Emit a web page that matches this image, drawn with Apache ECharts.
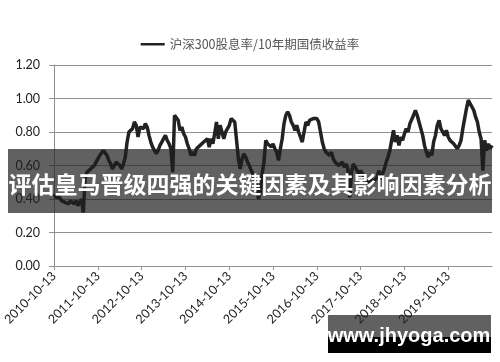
<!DOCTYPE html>
<html>
<head>
<meta charset="utf-8">
<script src="https://cdn.jsdelivr.net/npm/echarts@6/dist/echarts.min.js"></script>
<style>
html,body{margin:0;padding:0;background:#fff;}
#c{width:500px;height:362px;}
</style>
</head>
<body>
<div id="c"></div>
<script>
const seriesName = '沪深300股息率/10年期国债收益率';
const yearLabels = ['2010-10-13','2011-10-13','2012-10-13','2013-10-13','2014-10-13','2015-10-13','2016-10-13','2017-10-13','2018-10-13','2019-10-13'];
const yTicks = [0, 0.2, 0.4, 0.6, 0.8, 1.0, 1.2];
// ~semi-monthly readings, 24 per year
const y2010 = [0.43,0.41,0.40,0.41,0.39,0.40,0.38,0.39,0.37,0.39,0.38,0.37,0.39,0.36,0.38,0.40,0.32,0.52,0.56,0.55,0.58,0.57,0.60,0.62];
const y2011 = [0.63,0.66,0.65,0.69,0.68,0.66,0.63,0.61,0.58,0.60,0.62,0.63,0.60,0.58,0.61,0.65,0.74,0.80,0.79,0.82,0.86,0.84,0.77,0.83];
const y2012 = [0.84,0.82,0.85,0.83,0.78,0.74,0.71,0.69,0.67,0.69,0.72,0.74,0.76,0.78,0.75,0.73,0.70,0.56,0.90,0.91,0.87,0.81,0.83,0.79];
const y2013 = [0.77,0.73,0.70,0.66,0.68,0.66,0.70,0.69,0.72,0.71,0.74,0.73,0.76,0.71,0.76,0.73,0.79,0.86,0.76,0.84,0.80,0.76,0.80,0.80];
const y2014 = [0.84,0.88,0.89,0.86,0.75,0.64,0.58,0.64,0.67,0.65,0.62,0.60,0.57,0.55,0.52,0.47,0.40,0.44,0.55,0.62,0.75,0.73,0.74,0.71];
const y2015 = [0.73,0.70,0.68,0.63,0.70,0.76,0.85,0.90,0.92,0.90,0.86,0.84,0.81,0.84,0.80,0.77,0.74,0.80,0.86,0.84,0.87,0.86,0.88,0.89];
const y2016 = [0.88,0.86,0.80,0.74,0.70,0.68,0.69,0.66,0.68,0.64,0.62,0.63,0.60,0.61,0.62,0.59,0.61,0.58,0.41,0.56,0.61,0.59,0.58,0.55];
const y2017 = [0.57,0.55,0.53,0.52,0.50,0.51,0.52,0.50,0.51,0.53,0.57,0.52,0.55,0.58,0.62,0.65,0.69,0.68,0.81,0.74,0.78,0.72,0.77,0.75];
const y2018 = [0.79,0.82,0.80,0.85,0.84,0.90,0.93,0.90,0.86,0.82,0.78,0.72,0.68,0.65,0.68,0.66,0.74,0.78,0.84,0.87,0.82,0.80,0.78,0.81];
const y2019 = [0.77,0.75,0.76,0.73,0.74,0.70,0.72,0.75,0.82,0.88,0.94,0.99,0.97,0.96,0.93,0.89,0.86,0.80,0.76,0.57,0.75,0.69,0.73,0.70,0.72];
const bannerText = '评估皇马晋级四强的关键因素及其影响因素分析';
const watermarkText = 'www.jhyoga.com';

const values = [].concat(y2010,y2011,y2012,y2013,y2014,y2015,y2016,y2017,y2018,y2019);
const PER_YEAR = 24;
const categories = values.map((v,i)=> i % PER_YEAR === 0 && yearLabels[i/PER_YEAR] ? yearLabels[i/PER_YEAR] : 'p' + i);
const showIdx = (i)=> i % PER_YEAR === 0 && i/PER_YEAR < yearLabels.length;

const chart = echarts.init(document.getElementById('c'), null, {renderer:'canvas'});
const font = 'Lato, "Noto Sans CJK SC", sans-serif';
chart.setOption({
  animation:false,
  backgroundColor:'#fff',
  legend:{
    top:33, left:'center',
    data:[{name:seriesName, icon:'rect'}],
    itemWidth:24, itemHeight:2.5, itemGap:6,
    textStyle:{fontSize:12.5, color:'#555', fontFamily:'"Noto Sans CJK SC", sans-serif'}
  },
  grid:{left:47.7, right:8, top:65, bottom:96, containLabel:false},
  xAxis:{
    type:'category', data:categories, boundaryGap:false,
    axisLine:{show:true, lineStyle:{color:'#909090', width:1}},
    axisTick:{show:true, interval:(i)=>showIdx(i), length:4, lineStyle:{color:'#909090'}},
    axisLabel:{interval:(i)=>showIdx(i), rotate:45, fontSize:12.5, color:'#222', fontFamily:font, margin:8,
      formatter:(v)=> v.charAt(0)==='p' ? '' : v},
    splitLine:{show:false}
  },
  yAxis:{
    type:'value', min:yTicks[0], max:yTicks[yTicks.length-1], interval:0.2,
    axisLine:{show:true, lineStyle:{color:'#909090'}},
    axisTick:{show:true, length:5, lineStyle:{color:'#909090'}},
    axisLabel:{fontSize:12.5, color:'#222', fontFamily:font, margin:14, formatter:(v)=>v.toFixed(2)},
    splitLine:{show:true, lineStyle:{color:'#909090', width:1}}
  },
  series:[{
    name:seriesName, type:'line', data:values, showSymbol:false, symbol:'none',
    lineStyle:{color:'#222', width:3.5}, itemStyle:{color:'#222'}
  }],
  graphic:[
    {type:'rect', shape:{x:8, y:149, width:484, height:64}, style:{fill:'rgba(30,30,30,0.7)'}, z:100},
    {type:'text', x:250, y:184, style:{text:bannerText, fill:'#fff', font:'bold 23px "Noto Sans CJK SC", sans-serif', textAlign:'center', textVerticalAlign:'middle'}, z:101},
    {type:'rect', shape:{x:328, y:315, width:163, height:22}, style:{fill:'rgba(30,30,30,0.7)'}, z:100},
    {type:'rect', shape:{x:328, y:337, width:163, height:16}, style:{fill:'#000'}, z:100},
    {type:'text', x:409, y:336, style:{text:watermarkText, fill:'#fff', font:'bold 20px "Liberation Sans", Arial, sans-serif', textAlign:'center', textVerticalAlign:'middle'}, z:101}
  ]
});
</script>
</body>
</html>
